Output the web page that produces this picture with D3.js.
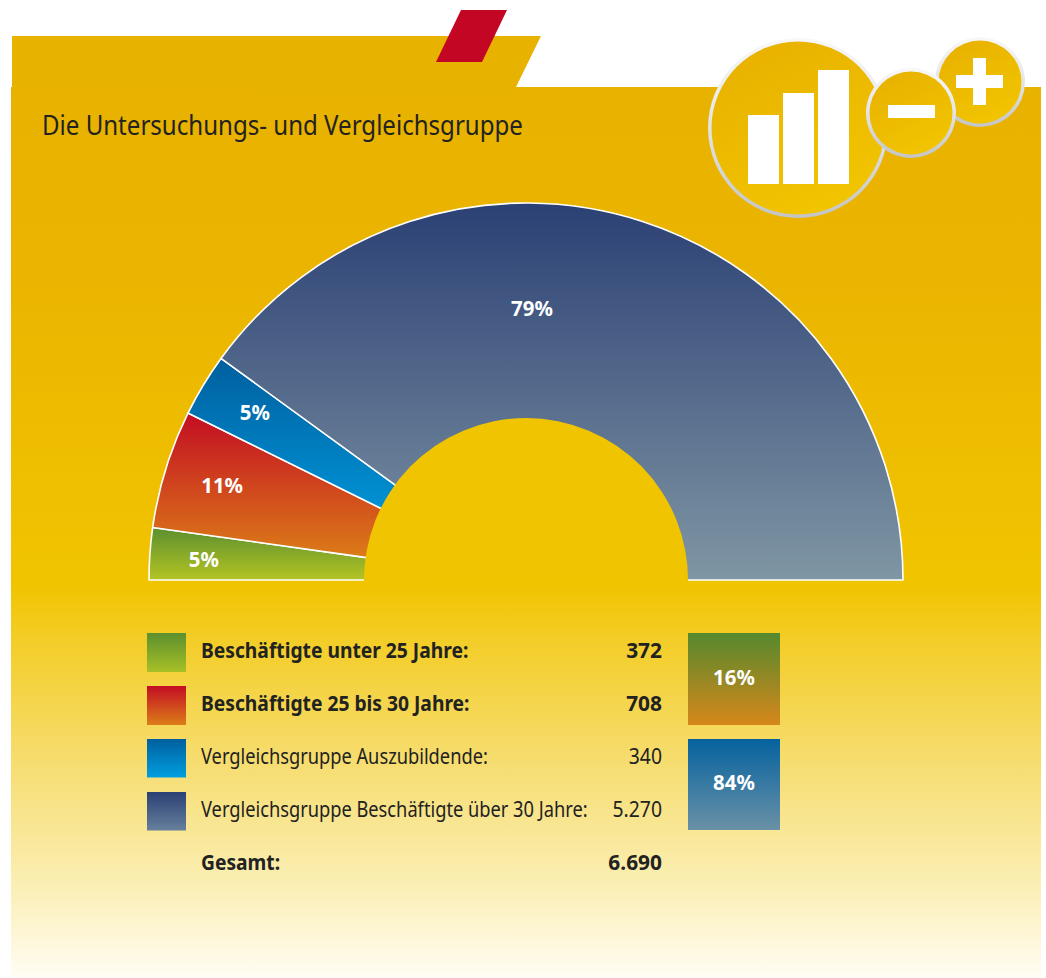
<!DOCTYPE html>
<html><head><meta charset="utf-8">
<style>html,body{margin:0;padding:0;background:#fff}svg{display:block}text{font-family:"Noto Sans",sans-serif}</style>
<script src="https://cdnjs.cloudflare.com/ajax/libs/d3/7.8.5/d3.min.js"></script>
</head><body>
<script>
const titleText = "Die Untersuchungs- und Vergleichsgruppe";
const categories = ["Beschäftigte unter 25 Jahre:","Beschäftigte 25 bis 30 Jahre:","Vergleichsgruppe Auszubildende:","Vergleichsgruppe Beschäftigte über 30 Jahre:"];
const valueLabels = ["372","708","340","5.270"];
const boldFlags = [true,true,false,false];
const sliceLabels = ["5%","11%","5%","79%"];
// shares of the half circle as actually drawn in the picture
const drawnShares = [4.45,10.15,5.4,80];
const totalLabel = "Gesamt:";
const totalValue = "6.690";
const groupLabels = ["16%","84%"];
const gradTop = ["#5c8f2e","#c30d23","#005f9e","#2b4074"];
const gradBottom = ["#b4c424","#dc7d18","#0093d6","#7f96a4"];
const legendBottom = ["#a8c026","#dc7d18","#009fe0","#66809c"];
const barHeights = [69,91,114];

const W=1046,H=978;
const svg=d3.select("body").append("svg").attr("width",W).attr("height",H);
const defs=svg.append("defs");
function grad(id,stops,attrs){
  const g=defs.append("linearGradient").attr("id",id);
  Object.entries(attrs||{x1:0,y1:0,x2:0,y2:1}).forEach(([k,v])=>g.attr(k,v));
  stops.forEach(([o,c])=>g.append("stop").attr("offset",o).attr("stop-color",c));
}
grad("bg",[[0,"#e8b200"],[0.2,"#eab400"],[0.56,"#f1c400"],[0.62,"#f3cd27"],[0.75,"#f6dc6c"],[0.9,"#fbefb6"],[1,"#fffdf4"]]);
grad("disc",[[0,"#e8b200"],[1,"#f2c500"]],{x1:0.25,y1:0,x2:0.75,y2:1});
grad("ring",[[0,"#f8f8f8"],[0.5,"#e4e4e4"],[1,"#c4c4c4"]]);
gradTop.forEach((c,i)=>{
  grad("s"+i,[[0,c],[1,gradBottom[i]]]);
  grad("l"+i,[[0,c],[1,legendBottom[i]]]);
});
grad("g0",[[0,"#55892e"],[1,"#d6871a"]]);
grad("g1",[[0,"#05639f"],[1,"#6a90a6"]]);

// background
svg.append("path").attr("d","M12,36H541L516,87H12Z").attr("fill","#e8b200");
svg.append("rect").attr("x",11).attr("y",87).attr("width",1030).attr("height",891).attr("fill","url(#bg)");
svg.append("path").attr("d","M461,10H507L482,62H436Z").attr("fill","#c30623");

// condensed text helper
function label(x,y,str,size,opt={}){
  const sx=opt.sx||0.86;
  return svg.append("text").attr("transform",`translate(${x},${y}) scale(${sx},1)`)
    .attr("font-size",size).attr("font-weight",opt.bold?700:400)
    .attr("text-anchor",opt.anchor||"start").attr("fill",opt.fill||"#222221").text(str);
}
label(42,135,titleText,28,{sx:0.86});

// icon
function disc(cx,cy,r){
  svg.append("circle").attr("cx",cx).attr("cy",cy).attr("r",r).attr("fill","url(#ring)");
  svg.append("circle").attr("cx",cx).attr("cy",cy).attr("r",r-3.5).attr("fill","url(#disc)");
}
disc(798,128,90);
disc(980,82,45);
disc(911,113,45);
const barX=d3.scaleBand().domain(d3.range(barHeights.length)).range([748,849]).paddingInner(0.115);
svg.selectAll(".ib").data(barHeights).join("rect").attr("x",(d,i)=>barX(i)).attr("width",barX.bandwidth())
  .attr("y",d=>184-d).attr("height",d=>d).attr("fill","#fff");
svg.append("rect").attr("x",888).attr("y",105).attr("width",47).attr("height",13).attr("fill","#fff");
svg.append("rect").attr("x",956).attr("y",75).attr("width",47).attr("height",13).attr("fill","#fff");
svg.append("rect").attr("x",973).attr("y",58).attr("width",13).attr("height",47).attr("fill","#fff");

// half donut
const cx=526,cy=580,R=377,r0=150;
const pie=d3.pie().sort(null).startAngle(-Math.PI/2).endAngle(Math.PI/2);
const arc=d3.arc().innerRadius(r0).outerRadius(R);
const slices=pie(drawnShares);
const g=svg.append("g").attr("transform",`translate(${cx},${cy})`);
g.selectAll("path").data(slices).join("path").attr("d",arc)
  .attr("fill",(d,i)=>`url(#s${i})`).attr("stroke","#fff").attr("stroke-width",1.6).attr("stroke-linejoin","round");
// flat hub covers the inner ends of the slices and the baseline between them
g.append("path").attr("d",d3.arc().innerRadius(0).outerRadius(162)({startAngle:-Math.PI/2-0.02,endAngle:Math.PI/2+0.02})).attr("fill","#f0c400");
const nudgeY=[2,0,-3,0], nudgeX=[-1,0,1,0];
slices.forEach((d,i)=>{
  const mid=(d.startAngle+d.endAngle)/2;
  const [px,py]= i===3 ? d3.pointRadial(0.022,271) : d3.pointRadial(mid,i===0?322:318);
  label(cx+px+nudgeX[i],cy+py+7+nudgeY[i],sliceLabels[i],21.5,{bold:true,fill:"#fff",anchor:"middle",sx:0.95});
});

// legend
const rowY=d3.scalePoint().domain(d3.range(5)).range([652,864]);
categories.forEach((c,i)=>{
  svg.append("rect").attr("x",147).attr("y",rowY(i)-19).attr("width",39).attr("height",i<2?39:38.5).attr("fill",`url(#l${i})`);
  const b=boldFlags[i];
  label(201,rowY(i)+5.5,c,22,{bold:b,sx:b?0.875:0.83});
  label(662,rowY(i)+5.5,valueLabels[i],22,{bold:b,anchor:"end",sx:b?0.95:0.88});
});
label(201,rowY(4)+5.5,totalLabel,22,{bold:true,sx:0.875});
label(662,rowY(4)+5.5,totalValue,22,{bold:true,anchor:"end",sx:0.95});

// group boxes
[[633,92],[739,91]].forEach(([y,h],i)=>{
  svg.append("rect").attr("x",688).attr("y",y).attr("width",92).attr("height",h).attr("fill",`url(#g${i})`);
  label(734,y+(i?51:52),groupLabels[i],21.5,{bold:true,fill:"#fff",anchor:"middle",sx:0.95});
});
</script>
</body></html>
